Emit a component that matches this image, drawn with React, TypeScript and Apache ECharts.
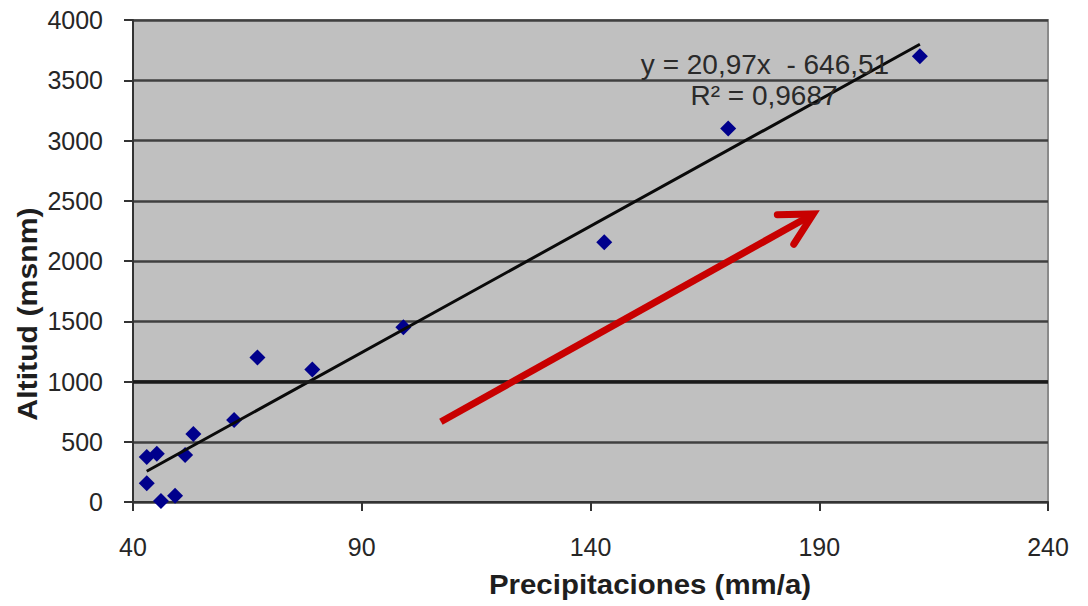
import React, { useEffect, useRef } from "react";
import * as echarts from "echarts";

// Data
const precipitation = [43.0, 45.2, 43.0, 46.1, 49.2, 51.4, 53.2, 62.1, 67.2, 79.2, 99.1, 143.0, 170.1, 212.0];
const altitude = [373, 400, 155, 8, 52, 390, 565, 680, 1200, 1100, 1450, 2155, 3100, 3700];

// Linear trendline shown in the chart
const trendSlope = 20.97;
const trendIntercept = -646.51;
const equationLines = ["y = 20,97x  - 646,51", "R² = 0,9687"];

// Axis ticks
const xTicks = { min: 40, max: 240, interval: 50 };
const yTicks = { min: 0, max: 4000, interval: 500 };

// Red annotation arrow (data space)
const arrowStart = [107.3, 666];
const arrowEnd = [188.7, 2390];

const FONT = "Liberation Sans, Arial, sans-serif";

export default function App() {
  const ref = useRef<HTMLDivElement>(null);

  useEffect(() => {
    if (!ref.current) return;
    const chart = echarts.init(ref.current, null, { renderer: "svg" });

    const xMin = Math.min(...precipitation);
    const xMax = Math.max(...precipitation);
    const trend = [
      [xMin, trendSlope * xMin + trendIntercept],
      [xMax, trendSlope * xMax + trendIntercept],
    ];

    chart.setOption({
      animation: false,
      backgroundColor: "#ffffff",
      grid: {
        left: 133,
        right: 40,
        top: 20,
        bottom: 104,
        show: true,
        backgroundColor: "#c0c0c0",
        borderColor: "#8a8a8a",
        borderWidth: 2,
      },
      xAxis: {
        type: "value",
        min: xTicks.min,
        max: xTicks.max,
        interval: xTicks.interval,
        axisLine: { show: true, onZero: false, lineStyle: { color: "#333", width: 2 } },
        axisTick: { show: true, length: 9, lineStyle: { color: "#333", width: 2 } },
        axisLabel: {
          fontSize: 25,
          color: "#262626",
          margin: 32,
          fontFamily: FONT,
          formatter: (v: number) => String(v),
        },
        splitLine: { show: false },
      },
      yAxis: {
        type: "value",
        min: yTicks.min,
        max: yTicks.max,
        interval: yTicks.interval,
        axisLine: { show: true, lineStyle: { color: "#333", width: 2 } },
        axisTick: { show: true, length: 9, lineStyle: { color: "#333", width: 2 } },
        axisLabel: {
          fontSize: 25,
          color: "#262626",
          margin: 30,
          fontFamily: FONT,
          formatter: (v: number) => String(v),
        },
        splitLine: { show: true, lineStyle: { color: "#404040", width: 2.5 } },
      },
      series: [
        {
          type: "scatter",
          data: precipitation.map((x, i) => [x, altitude[i]]),
          symbol: "diamond",
          symbolSize: 16,
          itemStyle: { color: "#00008c", opacity: 1 },
          z: 3,
          markLine: {
            silent: true,
            symbol: "none",
            label: { show: false },
            lineStyle: { color: "#1a1a1a", width: 3.5, type: "solid" },
            data: [{ yAxis: 1000 }],
          },
        },
        {
          type: "line",
          data: trend,
          symbol: "none",
          lineStyle: { color: "#0a0a0a", width: 3 },
          z: 4,
        },
      ],
    });

    const p0 = chart.convertToPixel({ gridIndex: 0 }, arrowStart) as number[];
    const p1 = chart.convertToPixel({ gridIndex: 0 }, arrowEnd) as number[];
    const ang = Math.atan2(p0[1] - p1[1], p0[0] - p1[0]);
    const armLen = 36;
    const spread = (28 * Math.PI) / 180;
    const a1 = [p1[0] + armLen * Math.cos(ang + spread), p1[1] + armLen * Math.sin(ang + spread)];
    const a2 = [p1[0] + armLen * Math.cos(ang - spread), p1[1] + armLen * Math.sin(ang - spread)];
    const tipBack = [p1[0] + 3 * Math.cos(ang), p1[1] + 3 * Math.sin(ang)];

    chart.setOption({
      graphic: [
        {
          type: "polyline",
          shape: { points: [p0, tipBack] },
          style: { stroke: "#c80000", lineWidth: 7, fill: null },
          z: 10,
        },
        {
          type: "polyline",
          shape: { points: [a1, p1, a2] },
          style: { stroke: "#c80000", lineWidth: 7, fill: null, lineJoin: "miter", lineCap: "round" },
          z: 10,
        },
        {
          type: "text",
          x: 765,
          y: 64,
          style: {
            text: equationLines[0],
            fontSize: 28,
            fontFamily: FONT,
            fill: "#2a2a2a",
            align: "center",
            verticalAlign: "middle",
          },
          z: 11,
        },
        {
          type: "text",
          x: 764,
          y: 95,
          style: {
            text: equationLines[1],
            fontSize: 28,
            fontFamily: FONT,
            fill: "#2a2a2a",
            align: "center",
            verticalAlign: "middle",
          },
          z: 11,
        },
        {
          type: "text",
          x: 28,
          y: 314,
          rotation: Math.PI / 2,
          scaleX: 1.12,
          style: {
            text: "Altitud (msnm)",
            fontSize: 27,
            fontWeight: "bold",
            fontFamily: FONT,
            fill: "#1e1e1e",
            align: "center",
            verticalAlign: "middle",
          },
        },
        {
          type: "text",
          x: 650,
          y: 584,
          scaleX: 1.09,
          style: {
            text: "Precipitaciones (mm/a)",
            fontSize: 27,
            fontWeight: "bold",
            fontFamily: FONT,
            fill: "#1e1e1e",
            align: "center",
            verticalAlign: "middle",
          },
        },
      ],
    });

    return () => chart.dispose();
  }, []);

  return (
    <div
      ref={ref}
      style={{ position: "absolute", left: 0, top: 0, width: 1088, height: 606 }}
    />
  );
}
